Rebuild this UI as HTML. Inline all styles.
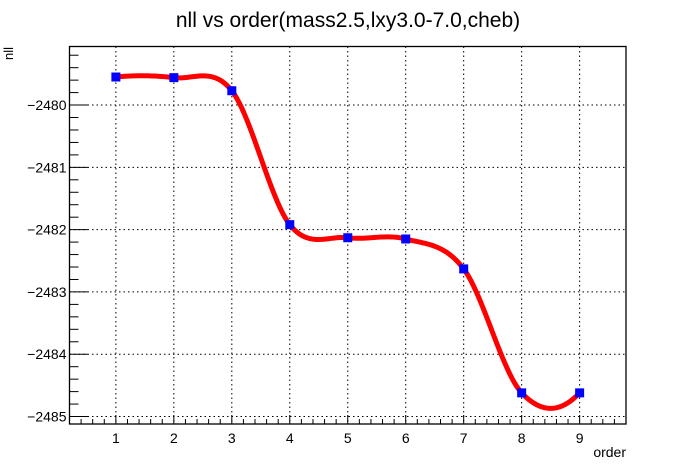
<!DOCTYPE html>
<html><head><meta charset="utf-8"><style>
body{margin:0;background:#fff;}
svg{display:block;font-family:"Liberation Sans",Arial,sans-serif;}
</style></head><body>
<svg id="chart" width="696" height="472" viewBox="0 0 696 472">
<rect width="696" height="472" fill="#fff"/>
<text x="348" y="27" text-anchor="middle" font-size="21">nll vs order(mass2.5,lxy3.0-7.0,cheb)</text>
<text transform="translate(13,60) rotate(-90)" font-size="13">nll</text>
<text x="626" y="457" text-anchor="end" font-size="14">order</text>
<g id="grid"></g>
<g id="axes"></g>
<g id="series"></g>
</svg>
<script>
const orders = [1,2,3,4,5,6,7,8,9];
const nllValues = [-2479.55,-2479.56,-2479.77,-2481.92,-2482.13,-2482.15,-2482.63,-2484.62,-2484.62];
const yTickValues = [-2480,-2481,-2482,-2483,-2484,-2485];
const xTickValues = [1,2,3,4,5,6,7,8,9];

const L=69.5,R=626,T=46.5,B=424;
const xMin=0.2,xMax=9.8,yMin=-2485.12,yMax=-2479.06;
const xs=v=>L+(v-xMin)/(xMax-xMin)*(R-L);
const ys=v=>B-(v-yMin)/(yMax-yMin)*(B-T);
const NS="http://www.w3.org/2000/svg";
function mk(tag,attrs,parent){const e=document.createElementNS(NS,tag);for(const k in attrs)e.setAttribute(k,attrs[k]);parent.appendChild(e);return e;}
const grid=document.getElementById('grid'),axes=document.getElementById('axes'),series=document.getElementById('series');

xTickValues.forEach(v=>{const l=mk('line',{x1:xs(v),x2:xs(v),y1:T,y2:B,stroke:'#000','stroke-width':1,'stroke-dasharray':'1.5,3'},grid);

});
yTickValues.forEach(v=>{const l=mk('line',{x1:L,x2:R,y1:ys(v),y2:ys(v),stroke:'#000','stroke-width':1,'stroke-dasharray':'1.5,3'},grid);

});

const fr=mk('rect',{x:L,y:T,width:R-L,height:B-T,fill:'none',stroke:'#000','stroke-width':1.3},axes);



for(let i=0;i<=48;i++){const v=xMin+i*0.2;if(v>xMax+1e-6)break;
 const major=Math.abs(v-Math.round(v))<1e-6;
 const t=mk('line',{x1:xs(v),x2:xs(v),y1:B,y2:B-(major?9:5),stroke:'#000','stroke-width':1},axes);
 
 }
xTickValues.forEach(v=>{const t=mk('text',{x:xs(v),y:B+19,'text-anchor':'middle','font-size':14},axes);t.textContent=v;
 
 });
for(let i=0;i<=40;i++){const v=-2485.0+i*0.2;if(v>yMax)break;
 const major=Math.abs(v-Math.round(v))<1e-6;
 const t=mk('line',{x1:L,x2:L+(major?18:9),y1:ys(v),y2:ys(v),stroke:'#000','stroke-width':1},axes);
 
 }
yTickValues.forEach(v=>{const t=mk('text',{x:L-3,y:ys(v)+5,'text-anchor':'end','font-size':14},axes);t.textContent='\u2212'+Math.abs(v);
 
 });

// Catmull-Rom style Hermite interpolation
const n=orders.length, m=[];
for(let i=1;i<n-1;i++)m[i]=(nllValues[i+1]-nllValues[i-1])/(orders[i+1]-orders[i-1]);
m[0]=2*(nllValues[1]-nllValues[0])/(orders[1]-orders[0])-m[1];
m[n-1]=2*(nllValues[n-1]-nllValues[n-2])/(orders[n-1]-orders[n-2])-m[n-2];
let pd='';
for(let j=0;j<n-1;j++){const h=orders[j+1]-orders[j];
 for(let k=0;k<=24;k++){const t=k/24;const t2=t*t,t3=t2*t;
  const y=(2*t3-3*t2+1)*nllValues[j]+(t3-2*t2+t)*h*m[j]+(-2*t3+3*t2)*nllValues[j+1]+(t3-t2)*h*m[j+1];
  pd+=(pd?'L':'M')+xs(orders[j]+t*h).toFixed(2)+','+ys(y).toFixed(2);}}
const curve=mk('path',{d:pd,fill:'none',stroke:'#ff0000','stroke-width':5,'stroke-linejoin':'round'},series);


orders.forEach((o,i)=>{const mm=mk('rect',{x:xs(o)-4.5,y:ys(nllValues[i])-4.5,width:9,height:9,fill:'#0000ff'},series);
 
 });
</script>
</body></html>
